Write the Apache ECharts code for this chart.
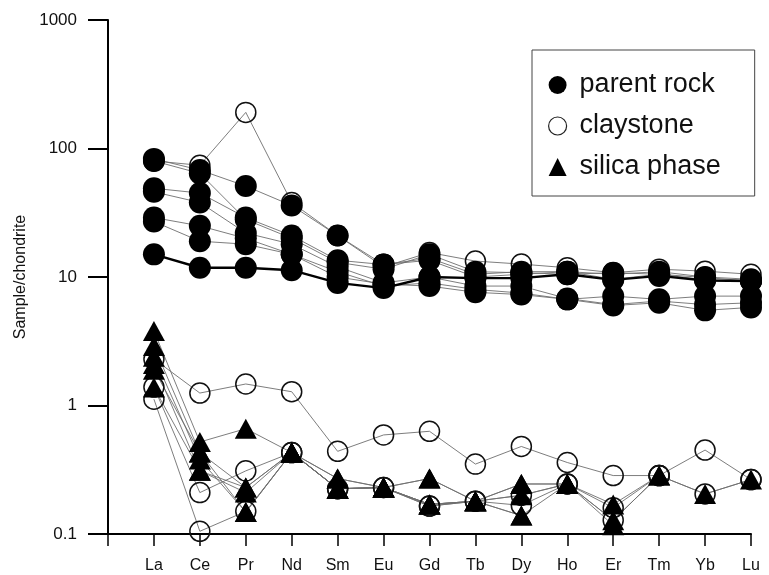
<!DOCTYPE html>
<html>
<head>
<meta charset="utf-8">
<script src="https://cdn.jsdelivr.net/npm/echarts@6/dist/echarts.min.js"></script>
<style>
html,body{margin:0;padding:0;background:#fff;}
#chart{width:769px;height:575px;}
</style>
</head>
<body>
<div id="chart"></div>
<script>
// REE categories (x axis)
const elements = ['La','Ce','Pr','Nd','Sm','Eu','Gd','Tb','Dy','Ho','Er','Tm','Yb','Lu'];
// y tick labels (log axis)
const yTicks = [0.1, 1, 10, 100, 1000];

// parent rock samples (filled circles)
const parent1 = [83, 68, 51, 36, 21, 12.5, 14, 10.5, 11, 11, 10.5, 11, 10, 9.6];
const parent2 = [80, 64, 28, 20, 13, 11.5, 15, 11, 10.8, 10.5, 10.8, 10.5, 9.9, 9.3];
const parent3 = [49, 45, 29, 21, 13.5, 12.5, 13.5, 10, 10.5, 11, 9.6, 10.5, 9.5, 9.3];
const parent4 = [46, 38, 22, 18, 12, 9, 10, 8.5, 8.5, 6.8, 6.1, 6.5, 6.1, 6.3];
const parent5 = [29, 25, 20, 15, 11, 8.5, 9, 8, 7.5, 6.7, 6.0, 6.3, 5.5, 5.8];
const parent6 = [27, 19, 18, 15, 10, 8.8, 8.5, 7.6, 7.3, 6.7, 7.1, 6.7, 7.1, 7.1];
const parent7 = [15, 11.8, 11.8, 11.3, 9.0, 8.2, 10, 9.8, 9.8, 10.5, 9.5, 10.2, 9.4, 9.3]; // bold line

// claystone samples (open circles)
const clay1 = [80, 74, 191, 38, 21, 12, 15.5, 13.3, 12.6, 11.8, 10.8, 11.5, 11.1, 10.5];
const clay2 = [2.3, 1.25, 1.47, 1.28, 0.44, 0.59, 0.63, 0.35, 0.48, 0.36, 0.285, 0.285, 0.45, 0.265];
const clay3 = [1.39, 0.21, 0.31, 0.43, 0.225, 0.23, 0.165, 0.18, 0.2, 0.245, 0.16, 0.285, 0.205, 0.265];
const clay4 = [1.12, 0.105, 0.15, 0.43, 0.225, 0.23, 0.165, 0.18, 0.167, 0.245, 0.128, 0.285];

// silica phase samples (filled triangles)
const silica1 = [3.8, 0.52, 0.66, 0.43, 0.27, 0.23, 0.27, 0.18, 0.245, 0.245, 0.17, 0.285, 0.205, 0.265];
const silica2 = [2.9, 0.43, 0.23, 0.43, 0.225, 0.23, 0.17, 0.18, 0.139, 0.245, 0.117];
const silica3 = [2.4, 0.38, 0.148, 0.43, 0.225, 0.23, 0.17, 0.18, 0.245, 0.245, 0.128, 0.285];
const silica4 = [2.1, 0.31, 0.21, 0.43, 0.27, 0.23, 0.27, 0.18, 0.139];
const silica5 = [1.9, 0.43, 0.148, 0.43, 0.225, 0.23, 0.17, 0.18];
const silica6 = [1.38, 0.31, 0.23, 0.43, 0.225, 0.23, 0.17, 0.18, 0.2, 0.245];

const parentSets = [parent1, parent2, parent3, parent4, parent5, parent6, parent7];
const claySets = [clay1, clay2, clay3, clay4];
const silicaSets = [silica1, silica2, silica3, silica4, silica5, silica6];

function pairs(arr){
  const out = [];
  arr.forEach((v,i)=>{ if(v!=null) out.push([elements[i], v]); });
  return out;
}

const series = [];
const thin = {color:'#6e6e6e', width:0.9};
claySets.concat(silicaSets).concat(parentSets).forEach((arr, k) => {
  const bold = arr === parent7;
  series.push({
    type:'line', name:'line'+k, data:pairs(arr), symbol:'none', silent:true,
    lineStyle: bold ? {color:'#000', width:2.4} : thin, z:2, animation:false
  });
});
function allPoints(sets){ let o=[]; sets.forEach(s=>{o=o.concat(pairs(s));}); return o; }
series.push({
  type:'scatter', name:'claystone', data:allPoints(claySets), symbol:'circle', symbolSize:20,
  itemStyle:{color:'rgba(0,0,0,0)', borderColor:'#111', borderWidth:1.5, opacity:1}, z:3, animation:false
});
series.push({
  type:'scatter', name:'silica phase', data:allPoints(silicaSets), symbol:'triangle', symbolSize:[22,20],
  itemStyle:{color:'#000', opacity:1}, z:4, animation:false
});
series.push({
  type:'scatter', name:'parent rock', data:allPoints(parentSets), symbol:'circle', symbolSize:22,
  itemStyle:{color:'#000', opacity:1}, z:5, animation:false
});

const chart = echarts.init(document.getElementById('chart'), null, {renderer:'canvas'});
chart.setOption({
  animation:false,
  backgroundColor:'#fff',
  grid:{left:108, right:18, top:20, bottom:41, containLabel:false},
  xAxis:{
    type:'category', data:[''].concat(elements), boundaryGap:false,
    axisLine:{lineStyle:{color:'#000', width:2}},
    axisTick:{show:true, length:12, lineStyle:{color:'#000', width:1.5}, alignWithLabel:true},
    axisLabel:{color:'#111', fontSize:16, fontFamily:'Liberation Sans, Arial, sans-serif', margin:24, interval:0},
    splitLine:{show:false}
  },
  yAxis:{
    type:'log', logBase:10, min:yTicks[0], max:yTicks[yTicks.length-1],
    name:'Sample/chondrite', nameLocation:'middle', nameGap:78, nameRotate:90,
    nameTextStyle:{color:'#111', fontSize:16, fontFamily:'Liberation Sans, Arial, sans-serif'},
    axisLine:{show:true, lineStyle:{color:'#000', width:2}},
    axisTick:{show:true, length:20, lineStyle:{color:'#000', width:2}},
    axisLabel:{color:'#111', fontSize:17, fontFamily:'Liberation Sans, Arial, sans-serif', margin:31,
      formatter:function(v){ return String(v); }},
    splitLine:{show:false}
  },
  legend:{
    show:true, orient:'vertical', left:532, top:50,
    padding:[20, 34, 14, 16], itemGap:11, itemWidth:18, itemHeight:18,
    borderColor:'#444', borderWidth:1, backgroundColor:'#fff',
    textStyle:{color:'#111', fontSize:27, fontFamily:'Liberation Sans, Arial, sans-serif', lineHeight:30, padding:[0,0,0,8]},
    data:[
      {name:'parent rock', icon:'circle', itemStyle:{color:'#000', borderWidth:0, opacity:1}},
      {name:'claystone', icon:'circle', itemStyle:{color:'rgba(0,0,0,0)', borderColor:'#222', borderWidth:1.2, opacity:1}},
      {name:'silica phase', icon:'triangle', itemStyle:{color:'#000', borderWidth:0, opacity:1}}
    ],
    selectedMode:false
  },
  series:series
});
</script>
</body>
</html>
